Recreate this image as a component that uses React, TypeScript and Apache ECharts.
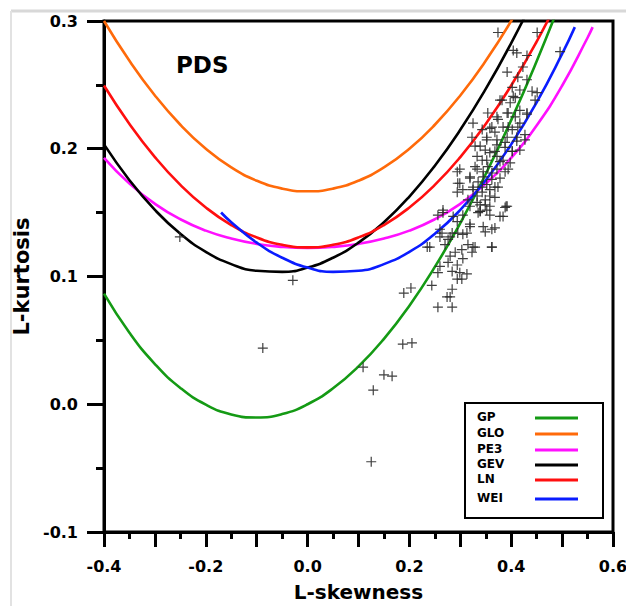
import React, { useEffect, useRef } from 'react';
import * as echarts from 'echarts';

// L-moment ratio diagram (PDS)
const SKEW = [-0.40, -0.35, -0.30, -0.25, -0.20, -0.15, -0.10, -0.05, 0.00, 0.05, 0.10, 0.15, 0.20, 0.25, 0.30, 0.35, 0.40, 0.45, 0.50];
const GP_KURT = [0.0866, 0.0560, 0.0315, 0.0128, -0.0003, -0.0080, -0.0104, -0.0077, 0.0000, 0.0125, 0.0296, 0.0512, 0.0772, 0.1075, 0.1418, 0.1802, 0.2224, 0.2685, 0.3182];
const GLO_KURT = [0.3000, 0.2688, 0.2417, 0.2188, 0.2000, 0.1854, 0.1750, 0.1688, 0.1667, 0.1688, 0.1750, 0.1854, 0.2000, 0.2188, 0.2417, 0.2688, 0.3000, 0.3354, 0.3750];
const GEV_KURT = [0.2034, 0.1754, 0.1521, 0.1334, 0.1193, 0.1097, 0.1045, 0.1036, 0.1070, 0.1147, 0.1265, 0.1425, 0.1626, 0.1867, 0.2148, 0.2468, 0.2827, 0.3224, 0.3658];
const LN_KURT = [0.2495, 0.2194, 0.1935, 0.1717, 0.1540, 0.1403, 0.1306, 0.1248, 0.1228, 0.1248, 0.1306, 0.1403, 0.1540, 0.1717, 0.1935, 0.2194, 0.2495, 0.2839, 0.3226];
const PE3_SKEW = [-0.40, -0.35, -0.30, -0.25, -0.20, -0.15, -0.10, -0.05, 0.00, 0.05, 0.10, 0.15, 0.20, 0.25, 0.30, 0.35, 0.40, 0.45, 0.50, 0.55, 0.56];
const PE3_KURT = [0.1929, 0.1727, 0.1569, 0.1448, 0.1359, 0.1297, 0.1255, 0.1232, 0.1224, 0.1232, 0.1255, 0.1297, 0.1359, 0.1448, 0.1569, 0.1727, 0.1929, 0.2182, 0.2493, 0.2869, 0.2952];
const WEI_SKEW = [-0.17, -0.15, -0.10, -0.05, 0.00, 0.05, 0.10, 0.15, 0.20, 0.25, 0.30, 0.35, 0.40, 0.45, 0.50, 0.525];
const WEI_KURT = [0.1501, 0.1425, 0.1265, 0.1147, 0.1070, 0.1036, 0.1045, 0.1097, 0.1193, 0.1334, 0.1521, 0.1754, 0.2034, 0.2363, 0.2742, 0.2952];

// sample L-moment ratios (L-skewness, L-kurtosis)
const SITES: [number, number][] = [
  [-0.251, 0.131], [-0.029, 0.097], [-0.088, 0.044], [0.187, 0.047], [0.205, 0.048], [0.109, 0.029], [0.150, 0.023], [0.166, 0.022], [0.129, 0.011], [0.125, -0.045],
  [0.390, 0.155], [0.384, 0.147], [0.362, 0.123], [0.329, 0.123], [0.368, 0.138], [0.349, 0.135], [0.335, 0.150], [0.313, 0.134], [0.319, 0.141], [0.305, 0.133],
  [0.294, 0.143], [0.284, 0.134], [0.264, 0.134], [0.260, 0.131], [0.276, 0.129], [0.235, 0.123], [0.256, 0.148], [0.266, 0.150], [0.303, 0.121], [0.323, 0.119],
  [0.315, 0.125], [0.280, 0.116], [0.305, 0.114], [0.290, 0.119], [0.276, 0.111], [0.294, 0.109], [0.284, 0.104], [0.260, 0.108], [0.256, 0.103], [0.299, 0.103],
  [0.313, 0.102], [0.303, 0.098], [0.294, 0.098], [0.244, 0.093], [0.203, 0.091], [0.189, 0.087], [0.284, 0.090], [0.280, 0.084], [0.274, 0.084], [0.256, 0.076],
  [0.284, 0.076], [0.339, 0.156], [0.352, 0.152], [0.358, 0.155],
  [0.374, 0.291], [0.451, 0.291], [0.496, 0.276], [0.404, 0.277], [0.411, 0.275], [0.431, 0.273], [0.392, 0.260], [0.413, 0.256], [0.431, 0.254], [0.423, 0.264],
  [0.402, 0.248], [0.417, 0.246], [0.441, 0.245], [0.447, 0.238], [0.378, 0.238], [0.398, 0.236], [0.408, 0.240], [0.394, 0.228], [0.408, 0.225], [0.431, 0.228],
  [0.374, 0.223], [0.384, 0.217], [0.402, 0.215], [0.417, 0.220], [0.358, 0.216], [0.368, 0.213], [0.392, 0.209], [0.411, 0.206], [0.427, 0.211], [0.352, 0.207],
  [0.372, 0.203], [0.388, 0.201], [0.402, 0.198], [0.417, 0.199], [0.339, 0.202], [0.358, 0.197], [0.372, 0.194], [0.384, 0.191], [0.398, 0.189], [0.343, 0.191],
  [0.354, 0.186], [0.372, 0.184], [0.388, 0.182], [0.333, 0.184], [0.345, 0.178], [0.362, 0.176], [0.378, 0.177], [0.294, 0.182], [0.319, 0.178], [0.299, 0.173],
  [0.325, 0.170], [0.343, 0.170], [0.358, 0.168], [0.374, 0.170], [0.294, 0.166], [0.333, 0.163], [0.349, 0.160], [0.368, 0.162], [0.388, 0.154], [0.339, 0.151],
  [0.319, 0.155],
  [0.354, 0.228], [0.372, 0.225], [0.392, 0.228], [0.417, 0.230], [0.431, 0.227], [0.451, 0.244], [0.404, 0.241], [0.382, 0.238], [0.325, 0.220], [0.343, 0.215],
  [0.362, 0.217], [0.394, 0.217], [0.413, 0.217], [0.323, 0.209], [0.352, 0.209], [0.372, 0.207], [0.388, 0.205], [0.411, 0.209], [0.427, 0.207], [0.329, 0.202],
  [0.349, 0.199], [0.368, 0.198], [0.402, 0.198], [0.333, 0.194], [0.352, 0.191], [0.378, 0.190], [0.394, 0.184], [0.329, 0.186], [0.345, 0.182], [0.362, 0.181],
  [0.299, 0.184], [0.295, 0.173], [0.319, 0.177], [0.335, 0.174], [0.352, 0.172], [0.368, 0.170], [0.305, 0.168], [0.325, 0.168], [0.343, 0.166], [0.358, 0.163],
  [0.315, 0.160], [0.333, 0.158], [0.349, 0.156], [0.392, 0.155], [0.339, 0.151], [0.358, 0.148], [0.378, 0.147], [0.266, 0.152], [0.286, 0.147], [0.305, 0.148],
  [0.260, 0.137], [0.280, 0.131], [0.295, 0.134], [0.319, 0.139], [0.345, 0.139], [0.362, 0.137], [0.240, 0.123], [0.270, 0.125], [0.325, 0.123], [0.362, 0.123],
];

const LEGEND_NAMES = ['GP', 'GLO', 'PE3', 'GEV', 'LN', 'WEI'];
const LEGEND_COLORS = ['#149a14', '#ff6a0a', '#ff10ff', '#000000', '#ff0f0f', '#0a1cff'];

const FONT = '"DejaVu Sans", Verdana, sans-serif';

export default function App() {
  const ref = useRef<HTMLDivElement>(null);
  useEffect(() => {
    if (!ref.current) return;
    const chart = echarts.init(ref.current, undefined, { renderer: 'svg' });
    const pair = (xs: number[], ys: number[]) => xs.map((x, i) => [x, ys[i]]);
    const curves = [
      { name: 'GP', data: pair(SKEW, GP_KURT), color: LEGEND_COLORS[0] },
      { name: 'GLO', data: pair(SKEW, GLO_KURT), color: LEGEND_COLORS[1] },
      { name: 'PE3', data: pair(PE3_SKEW, PE3_KURT), color: LEGEND_COLORS[2] },
      { name: 'GEV', data: pair(SKEW, GEV_KURT), color: LEGEND_COLORS[3] },
      { name: 'LN', data: pair(SKEW, LN_KURT), color: LEGEND_COLORS[4] },
      { name: 'WEI', data: pair(WEI_SKEW, WEI_KURT), color: LEGEND_COLORS[5] },
    ];
    const rowOffsets = [0, 16, 32, 47, 62, 81];
    const legendEls: any[] = [
      {
        type: 'rect', z: 20,
        shape: { x: 465, y: 403, width: 138, height: 115 },
        style: { fill: '#fff', stroke: '#000', lineWidth: 2 },
      },
    ];
    LEGEND_NAMES.forEach((n, i) => {
      const y = 417 + rowOffsets[i];
      legendEls.push({
        type: 'text', z: 21, x: 477, y,
        style: { text: n, font: `bold 12px ${FONT}`, fill: '#000', verticalAlign: 'middle', align: 'left' },
      });
      legendEls.push({
        type: 'line', z: 21,
        shape: { x1: 535, y1: y + 1, x2: 578, y2: y + 1 },
        style: { stroke: LEGEND_COLORS[i], lineWidth: 3 },
      });
    });

    chart.setOption({
      animation: false,
      backgroundColor: '#fff',
      grid: {
        left: 104, top: 21, width: 509, height: 511, outerBoundsMode: 'none', containLabel: false,
        show: true, borderColor: '#000', borderWidth: 3, backgroundColor: 'transparent',
      },
      xAxis: {
        type: 'value', min: -0.4, max: 0.6, interval: 0.1,
        name: 'L-skewness', nameLocation: 'middle', nameGap: 50,
        nameTextStyle: { fontFamily: FONT, fontWeight: 'bold', fontSize: 20, color: '#000' },
        axisLine: { show: true, onZero: false, lineStyle: { color: '#000', width: 3 } },
        axisTick: { show: true, length: 15, lineStyle: { color: '#000', width: 3 } },
        minorTick: { show: true, splitNumber: 2, length: 7, lineStyle: { color: '#000', width: 3 } },
        splitLine: { show: false },
        axisLabel: {
          margin: 26, fontFamily: FONT, fontWeight: 'bold', fontSize: 16, color: '#000',
          formatter: (v: number) => (Math.round(v * 10) % 2 === 0 ? v.toFixed(1) : ''),
        },
      },
      yAxis: {
        type: 'value', min: -0.1, max: 0.3, interval: 0.1,
        name: 'L-kurtosis', nameLocation: 'middle', nameGap: 70, nameRotate: 90,
        nameTextStyle: { fontFamily: FONT, fontWeight: 'bold', fontSize: 21, color: '#000' },
        axisLine: { show: true, onZero: false, lineStyle: { color: '#000', width: 3 } },
        axisTick: { show: true, length: 17, lineStyle: { color: '#000', width: 3 } },
        minorTick: { show: true, splitNumber: 2, length: 8, lineStyle: { color: '#000', width: 3 } },
        splitLine: { show: false },
        axisLabel: {
          margin: 26, fontFamily: FONT, fontWeight: 'bold', fontSize: 16, color: '#000',
          formatter: (v: number) => v.toFixed(1),
        },
      },
      graphic: [
        { type: 'line', shape: { x1: 11, y1: 11, x2: 626, y2: 11 }, style: { stroke: '#d8d8d8', lineWidth: 3 } },
        { type: 'line', shape: { x1: 11, y1: 11, x2: 11, y2: 606 }, style: { stroke: '#e2e2e2', lineWidth: 2 } },
        { type: 'text', x: 176, y: 65, z: 20, style: { text: 'PDS', font: `bold 23px ${FONT}`, fill: '#000', verticalAlign: 'middle' } },
        ...legendEls,
      ],
      series: [
        ...curves.map((c) => ({
          type: 'line', name: c.name, data: c.data, smooth: true, symbol: 'none', clip: true,
          lineStyle: { color: c.color, width: 2.6 }, z: 3,
        })),
        {
          type: 'scatter', name: 'sites', data: SITES, z: 4,
          symbol: 'path://M4.4,0H5.6V10H4.4ZM0,4.4H10V5.6H0Z', symbolSize: 10,
          itemStyle: { color: '#2a2a2a', opacity: 0.9 },
        },
      ],
    });
    return () => chart.dispose();
  }, []);
  return <div ref={ref} style={{ position: 'fixed', left: 0, top: 0, width: 626, height: 606, background: '#fff' }} />;
}
